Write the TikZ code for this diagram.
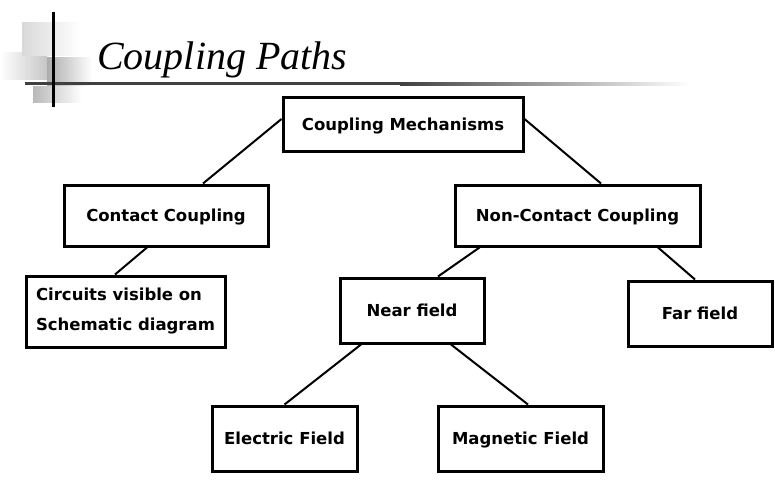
\documentclass[tikz,border=0pt]{standalone}
\usepackage{fontspec}
\setmainfont{Liberation Serif}
\newfontfamily\boxfont{DejaVu Sans}
\usetikzlibrary{calc}
\begin{document}
\begin{tikzpicture}[x=1pt, y=-1pt, font=\boxfont\bfseries\fontsize{16.5}{19}\selectfont,
        box/.style={draw, line width=3pt, inner sep=0pt, align=center},
        onebox/.style={box, text height=12pt, text depth=0pt},
        link/.style={line width=2pt}]
        \useasboundingbox[fill=white] (0,0) rectangle (775,481);
        % title decoration
        \shade[left color=white, right color=gray!45] (0,53) rectangle (47,80);
        \shade[left color=gray!30, right color=white] (22,23) rectangle (80,56);
        \shade[left color=gray!65, right color=white] (47,58) rectangle (92,86);
        \shade[left color=gray!55, right color=white] (33,87) rectangle (82,103);
        \fill[black!75] (25,82.5) rectangle (400,85.5);
        \shade[left color=black!75, right color=white] (400,82.5) rectangle (690,85.5);
        \draw[line width=3pt] (53,12) -- (53,107);
        \node[anchor=base west, inner sep=0pt, font=\itshape\fontsize{40}{44}\selectfont] (title) at (97,70) {Coupling Paths};
        % boxes
        \node[onebox, minimum width=240, minimum height=54] (mech) at (403,125) {Coupling Mechanisms};
        \node[onebox, minimum width=204, minimum height=61] (contact) at (166,215.5) {Contact Coupling};
        \node[onebox, minimum width=245, minimum height=61] (noncontact) at (577.5,215.5) {Non-Contact Coupling};
        \node[box, minimum width=199, minimum height=71, align=left,
              font=\boxfont\bfseries\fontsize{16.5}{30}\selectfont] (circuits) at (125.5,311.5)
            {Circuits visible on\\Schematic diagram};
        \node[onebox, minimum width=144, minimum height=65] (near) at (412,310.5) {Near field};
        \node[onebox, minimum width=144, minimum height=65] (far) at (700,313.5) {Far field};
        \node[onebox, minimum width=145, minimum height=65] (electric) at (284.5,438.5) {Electric Field};
        \node[onebox, minimum width=165, minimum height=65] (magnetic) at (520.5,438.5) {Magnetic Field};
        % links
        \draw[link] ([yshift=6pt]mech.west) -- ([xshift=37pt]contact.north);
        \draw[link] ([yshift=6pt]mech.east) -- ([xshift=23.5pt]noncontact.north);
        \draw[link] ([xshift=-19pt]contact.south) -- ([xshift=-10.5pt]circuits.north);
        \draw[link] ([xshift=-98pt]noncontact.south) -- ([xshift=26pt]near.north);
        \draw[link] ([xshift=80.5pt]noncontact.south) -- ([xshift=-5pt]far.north);
        \draw[link] ([xshift=-51pt]near.south) -- (electric.north);
        \draw[link] ([xshift=39pt]near.south) -- ([xshift=7.5pt]magnetic.north);
\end{tikzpicture}
\end{document}
